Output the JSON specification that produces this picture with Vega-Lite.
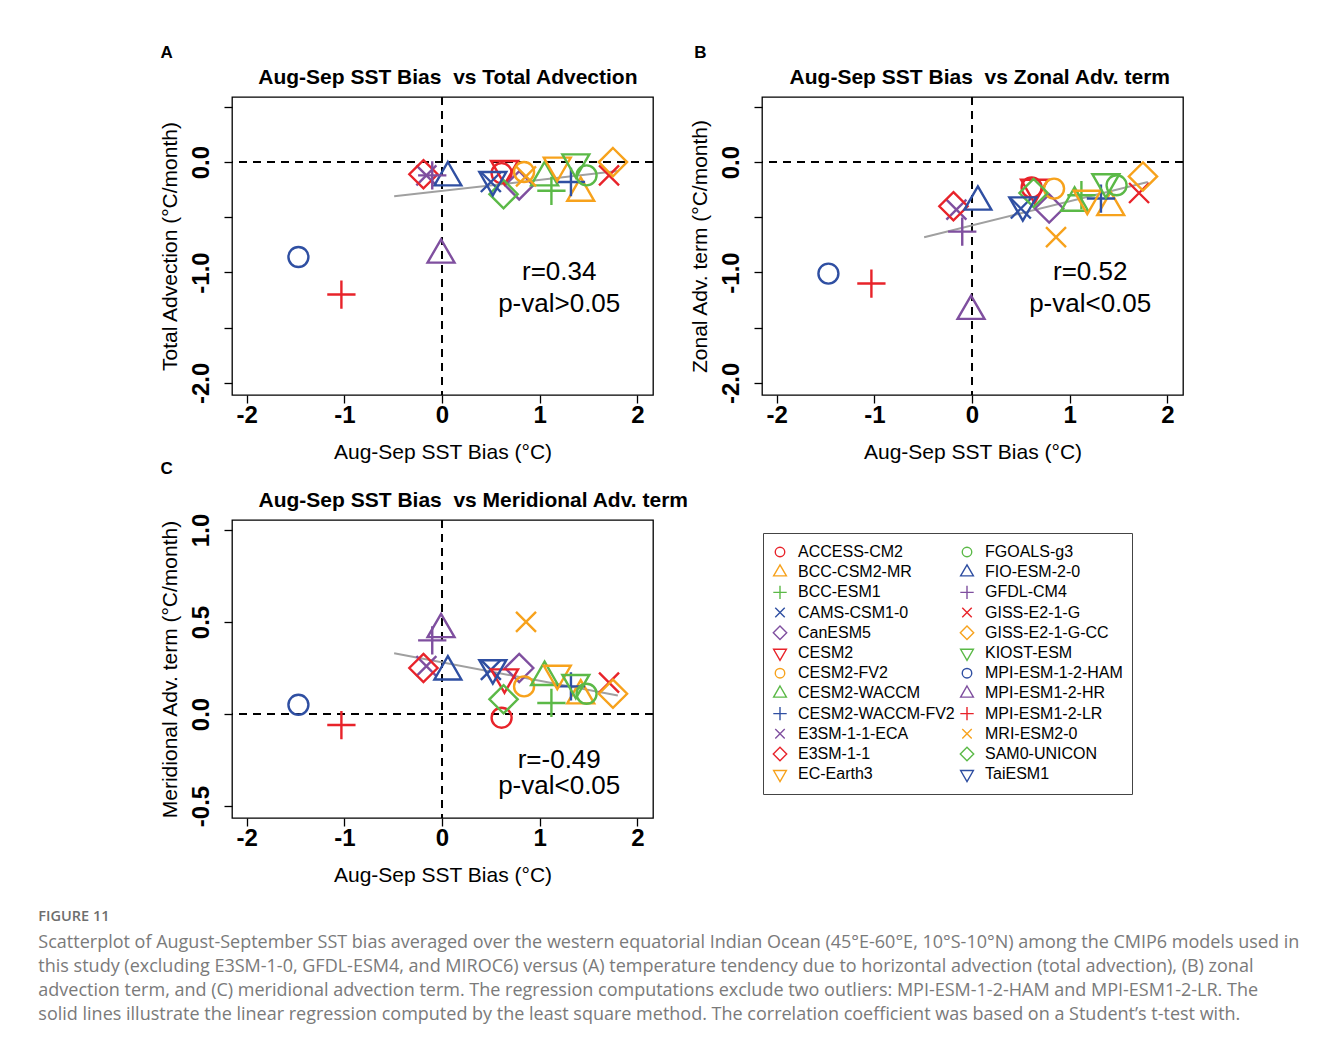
{
  "$schema": "https://vega.github.io/schema/vega-lite/v6.json",
  "background": "white",
  "padding": {"left": 38, "top": 43, "right": 5, "bottom": 5},
  "title": {
    "text": "FIGURE 11",
    "subtitle": [
      "Scatterplot of August-September SST bias averaged over the western equatorial Indian Ocean (45°E-60°E, 10°S-10°N) among the CMIP6 models used in",
      "this study (excluding E3SM-1-0, GFDL-ESM4, and MIROC6) versus (A) temperature tendency due to horizontal advection (total advection), (B) zonal",
      "advection term, and (C) meridional advection term. The regression computations exclude two outliers: MPI-ESM-1-2-HAM and MPI-ESM1-2-LR. The",
      "solid lines illustrate the linear regression computed by the least square method. The correlation coefficient was based on a Student’s t-test with."
    ],
    "orient": "bottom",
    "anchor": "start",
    "frame": "bounds",
    "dx": -120,
    "offset": 24,
    "font": "Open Sans",
    "fontSize": 14.5,
    "fontWeight": 600,
    "color": "#6e6e6e",
    "subtitleFont": "Open Sans",
    "subtitleFontSize": 18,
    "subtitleColor": "#7a7a7a",
    "subtitleLineHeight": 24,
    "subtitlePadding": 10
  },
  "datasets": {
    "models": [
      {"model": "ACCESS-CM2", "sst": 0.61, "ta": -0.10, "za": -0.23, "ma": -0.02},
      {"model": "BCC-CSM2-MR", "sst": 1.42, "ta": -0.28, "za": -0.41, "ma": 0.10},
      {"model": "BCC-ESM1", "sst": 1.12, "ta": -0.26, "za": -0.30, "ma": 0.06},
      {"model": "CAMS-CSM1-0", "sst": 0.50, "ta": -0.18, "za": -0.42, "ma": 0.24},
      {"model": "CanESM5", "sst": 0.79, "ta": -0.21, "za": -0.42, "ma": 0.25},
      {"model": "CESM2", "sst": 0.64, "ta": -0.06, "za": -0.23, "ma": 0.20},
      {"model": "CESM2-FV2", "sst": 0.84, "ta": -0.09, "za": -0.24, "ma": 0.15},
      {"model": "CESM2-WACCM", "sst": 1.05, "ta": -0.14, "za": -0.37, "ma": 0.20},
      {"model": "CESM2-WACCM-FV2", "sst": 1.32, "ta": -0.18, "za": -0.33, "ma": 0.15},
      {"model": "E3SM-1-1-ECA", "sst": -0.16, "ta": -0.12, "za": -0.43, "ma": 0.26},
      {"model": "E3SM-1-1", "sst": -0.19, "ta": -0.11, "za": -0.40, "ma": 0.25},
      {"model": "EC-Earth3", "sst": 1.18, "ta": -0.03, "za": -0.33, "ma": 0.22},
      {"model": "FGOALS-g3", "sst": 1.48, "ta": -0.12, "za": -0.21, "ma": 0.11},
      {"model": "FIO-ESM-2-0", "sst": 0.06, "ta": -0.14, "za": -0.36, "ma": 0.23},
      {"model": "GFDL-CM4", "sst": -0.10, "ta": -0.12, "za": -0.63, "ma": 0.40},
      {"model": "GISS-E2-1-G", "sst": 1.71, "ta": -0.12, "za": -0.28, "ma": 0.17},
      {"model": "GISS-E2-1-G-CC", "sst": 1.75, "ta": 0.00, "za": -0.13, "ma": 0.11},
      {"model": "KIOST-ESM", "sst": 1.37, "ta": 0.00, "za": -0.18, "ma": 0.17},
      {"model": "MPI-ESM-1-2-HAM", "sst": -1.47, "ta": -0.86, "za": -1.01, "ma": 0.05},
      {"model": "MPI-ESM1-2-HR", "sst": -0.01, "ta": -0.84, "za": -1.35, "ma": 0.46},
      {"model": "MPI-ESM1-2-LR", "sst": -1.03, "ta": -1.20, "za": -1.10, "ma": -0.06},
      {"model": "MRI-ESM2-0", "sst": 0.86, "ta": -0.13, "za": -0.68, "ma": 0.50},
      {"model": "SAM0-UNICON", "sst": 0.63, "ta": -0.29, "za": -0.28, "ma": 0.08},
      {"model": "TaiESM1", "sst": 0.52, "ta": -0.16, "za": -0.39, "ma": 0.25}
    ],
    "reg": [
      {"sst": -0.49, "ta": -0.31, "za": -0.68, "ma": 0.33},
      {"sst": 1.80, "ta": -0.08, "za": -0.18, "ma": 0.10}
    ]
  },
  "config": {
    "font": "Liberation Sans",
    "view": {"stroke": "black", "strokeWidth": 1.3},
    "axis": {
      "grid": false,
      "domain": false,
      "tickColor": "black",
      "tickSize": 8,
      "tickWidth": 1.3,
      "labelFont": "Liberation Sans",
      "labelFontSize": 24,
      "labelFontWeight": "bold",
      "labelColor": "black",
      "titleFont": "Liberation Sans",
      "titleFontSize": 21,
      "titleFontWeight": "normal",
      "titleColor": "black"
    },
    "axisX": {"labelPadding": 0, "titlePadding": 14, "labelFlush": false},
    "axisY": {"labelAngle": -90, "labelAlign": "center", "labelBaseline": "bottom", "labelPadding": 11, "titlePadding": 9, "labelFlush": false},
    "legend": {
      "orient": "none",
      "legendX": 531,
      "legendY": 436,
      "columns": 2,
      "gridAlign": "all",
      "strokeColor": "#444444",
      "padding": 9,
      "labelFont": "Liberation Sans",
      "labelFontSize": 16,
      "labelColor": "black",
      "labelOffset": 10,
      "symbolSize": 90,
      "symbolStrokeWidth": 1.4,
      "clipHeight": 20,
      "rowPadding": 0.2,
      "columnPadding": 4,
      "labelLimit": 300
    }
  },
  "spacing": -4,
  "vconcat": [
    {
      "spacing": 33,
      "hconcat": [
        {
          "width": 421,
          "height": 298,
          "layer": [
            {"data": {"values": [{}]}, "mark": {"type": "rule", "color": "black", "strokeWidth": 2, "strokeDash": [8, 6]}, "encoding": {"y": {"datum": 0}}},
            {"data": {"values": [{}]}, "mark": {"type": "rule", "color": "black", "strokeWidth": 2, "strokeDash": [8, 6]}, "encoding": {"x": {"datum": 0}}},
            {"data": {"name": "reg"}, "mark": {"type": "line", "color": "#a0a0a0", "strokeWidth": 2}, "encoding": {
              "x": {"field": "sst", "type": "quantitative"},
              "y": {"field": "ta", "type": "quantitative"}}},
            {"data": {"name": "models"}, "mark": {"type": "point", "filled": false, "size": 400, "strokeWidth": 2.4, "opacity": 1},
              "encoding": {
                "x": {"field": "sst", "type": "quantitative", "title": "Aug-Sep SST Bias (°C)",
                  "scale": {"domain": [-2.15, 2.16], "nice": false, "zero": false},
                  "axis": {"values": [-2, -1, 0, 1, 2], "labelExpr": "(datum.value < 0 ? '-' : '') + format(abs(datum.value), 'd')"}},
                "y": {"field": "ta", "type": "quantitative", "title": "Total Advection (°C/month)",
                  "scale": {"domain": [-2.11, 0.59], "nice": false, "zero": false},
                  "axis": {"values": [-2, -1.5, -1, -0.5, 0, 0.5], "labelExpr": "datum.value % 1 == 0 ? (datum.value < 0 ? '-' : '') + format(abs(datum.value), '.1f') : ''"}},
                "color": {"field": "model", "type": "nominal", "title": null,
                  "scale": {"domain": ["ACCESS-CM2", "BCC-CSM2-MR", "BCC-ESM1", "CAMS-CSM1-0", "CanESM5", "CESM2", "CESM2-FV2", "CESM2-WACCM", "CESM2-WACCM-FV2", "E3SM-1-1-ECA", "E3SM-1-1", "EC-Earth3", "FGOALS-g3", "FIO-ESM-2-0", "GFDL-CM4", "GISS-E2-1-G", "GISS-E2-1-G-CC", "KIOST-ESM", "MPI-ESM-1-2-HAM", "MPI-ESM1-2-HR", "MPI-ESM1-2-LR", "MRI-ESM2-0", "SAM0-UNICON", "TaiESM1"],
                    "range": ["#E8232A", "#F7A21C", "#5BB947", "#2F4FA2", "#7F4F9F", "#E8232A", "#F7A21C", "#5BB947", "#2F4FA2", "#7F4F9F", "#E8232A", "#F7A21C", "#5BB947", "#2F4FA2", "#7F4F9F", "#E8232A", "#F7A21C", "#5BB947", "#2F4FA2", "#7F4F9F", "#E8232A", "#F7A21C", "#5BB947", "#2F4FA2"]}},
                "shape": {"field": "model", "type": "nominal", "title": null,
                  "scale": {"domain": ["ACCESS-CM2", "BCC-CSM2-MR", "BCC-ESM1", "CAMS-CSM1-0", "CanESM5", "CESM2", "CESM2-FV2", "CESM2-WACCM", "CESM2-WACCM-FV2", "E3SM-1-1-ECA", "E3SM-1-1", "EC-Earth3", "FGOALS-g3", "FIO-ESM-2-0", "GFDL-CM4", "GISS-E2-1-G", "GISS-E2-1-G-CC", "KIOST-ESM", "MPI-ESM-1-2-HAM", "MPI-ESM1-2-HR", "MPI-ESM1-2-LR", "MRI-ESM2-0", "SAM0-UNICON", "TaiESM1"],
                    "range": ["circle", "M0,-1.555L1.347,0.778L-1.347,0.778Z", "M-1.414,0L1.414,0M0,-1.414L0,1.414", "M-1,-1L1,1M-1,1L1,-1", "M0,-1.414L1.414,0L0,1.414L-1.414,0Z", "M0,1.555L1.347,-0.778L-1.347,-0.778Z", "circle", "M0,-1.555L1.347,0.778L-1.347,0.778Z", "M-1.414,0L1.414,0M0,-1.414L0,1.414", "M-1,-1L1,1M-1,1L1,-1", "M0,-1.414L1.414,0L0,1.414L-1.414,0Z", "M0,1.555L1.347,-0.778L-1.347,-0.778Z", "circle", "M0,-1.555L1.347,0.778L-1.347,0.778Z", "M-1.414,0L1.414,0M0,-1.414L0,1.414", "M-1,-1L1,1M-1,1L1,-1", "M0,-1.414L1.414,0L0,1.414L-1.414,0Z", "M0,1.555L1.347,-0.778L-1.347,-0.778Z", "circle", "M0,-1.555L1.347,0.778L-1.347,0.778Z", "M-1.414,0L1.414,0M0,-1.414L0,1.414", "M-1,-1L1,1M-1,1L1,-1", "M0,-1.414L1.414,0L0,1.414L-1.414,0Z", "M0,1.555L1.347,-0.778L-1.347,-0.778Z"]}}
              }},
            {"data": {"values": [{}]}, "mark": {"type": "text", "fontSize": 17, "fontWeight": "bold", "align": "center", "baseline": "middle", "color": "black"},
              "encoding": {"x": {"datum": -2.82}, "y": {"datum": 0.99}, "text": {"value": "A"}}},
            {"data": {"values": [{}]}, "mark": {"type": "text", "fontSize": 21, "fontWeight": "bold", "align": "center", "baseline": "middle", "color": "black"},
              "encoding": {"x": {"datum": 0.06}, "y": {"datum": 0.76}, "text": {"value": "Aug-Sep SST Bias\u00a0 vs Total Advection"}}},
            {"data": {"values": [{}]}, "mark": {"type": "text", "fontSize": 26, "align": "center", "baseline": "middle", "color": "black"},
              "encoding": {"x": {"datum": 1.2}, "y": {"datum": -1.0}, "text": {"value": "r=0.34"}}},
            {"data": {"values": [{}]}, "mark": {"type": "text", "fontSize": 26, "align": "center", "baseline": "middle", "color": "black"},
              "encoding": {"x": {"datum": 1.2}, "y": {"datum": -1.285}, "text": {"value": "p-val>0.05"}}}
          ]
        },
        {
          "width": 421,
          "height": 298,
          "layer": [
            {"data": {"values": [{}]}, "mark": {"type": "rule", "color": "black", "strokeWidth": 2, "strokeDash": [8, 6]}, "encoding": {"y": {"datum": 0}}},
            {"data": {"values": [{}]}, "mark": {"type": "rule", "color": "black", "strokeWidth": 2, "strokeDash": [8, 6]}, "encoding": {"x": {"datum": 0}}},
            {"data": {"name": "reg"}, "mark": {"type": "line", "color": "#a0a0a0", "strokeWidth": 2}, "encoding": {
              "x": {"field": "sst", "type": "quantitative"},
              "y": {"field": "za", "type": "quantitative"}}},
            {"data": {"name": "models"}, "mark": {"type": "point", "filled": false, "size": 400, "strokeWidth": 2.4, "opacity": 1},
              "encoding": {
                "x": {"field": "sst", "type": "quantitative", "title": "Aug-Sep SST Bias (°C)",
                  "scale": {"domain": [-2.15, 2.16], "nice": false, "zero": false},
                  "axis": {"values": [-2, -1, 0, 1, 2], "labelExpr": "(datum.value < 0 ? '-' : '') + format(abs(datum.value), 'd')"}},
                "y": {"field": "za", "type": "quantitative", "title": "Zonal Adv. term (°C/month)",
                  "scale": {"domain": [-2.11, 0.59], "nice": false, "zero": false},
                  "axis": {"values": [-2, -1.5, -1, -0.5, 0, 0.5], "labelExpr": "datum.value % 1 == 0 ? (datum.value < 0 ? '-' : '') + format(abs(datum.value), '.1f') : ''"}},
                "color": {"field": "model", "type": "nominal", "title": null},
                "shape": {"field": "model", "type": "nominal", "title": null}
              }},
            {"data": {"values": [{}]}, "mark": {"type": "text", "fontSize": 17, "fontWeight": "bold", "align": "center", "baseline": "middle", "color": "black"},
              "encoding": {"x": {"datum": -2.78}, "y": {"datum": 0.99}, "text": {"value": "B"}}},
            {"data": {"values": [{}]}, "mark": {"type": "text", "fontSize": 21, "fontWeight": "bold", "align": "center", "baseline": "middle", "color": "black"},
              "encoding": {"x": {"datum": 0.08}, "y": {"datum": 0.76}, "text": {"value": "Aug-Sep SST Bias\u00a0 vs Zonal Adv. term"}}},
            {"data": {"values": [{}]}, "mark": {"type": "text", "fontSize": 26, "align": "center", "baseline": "middle", "color": "black"},
              "encoding": {"x": {"datum": 1.21}, "y": {"datum": -1.0}, "text": {"value": "r=0.52"}}},
            {"data": {"values": [{}]}, "mark": {"type": "text", "fontSize": 26, "align": "center", "baseline": "middle", "color": "black"},
              "encoding": {"x": {"datum": 1.21}, "y": {"datum": -1.285}, "text": {"value": "p-val<0.05"}}}
          ]
        }
      ]
    },
    {
      "width": 421,
      "height": 298,
      "layer": [
        {"data": {"values": [{}]}, "mark": {"type": "rule", "color": "black", "strokeWidth": 2, "strokeDash": [8, 6]}, "encoding": {"y": {"datum": 0}}},
        {"data": {"values": [{}]}, "mark": {"type": "rule", "color": "black", "strokeWidth": 2, "strokeDash": [8, 6]}, "encoding": {"x": {"datum": 0}}},
        {"data": {"name": "reg"}, "mark": {"type": "line", "color": "#a0a0a0", "strokeWidth": 2}, "encoding": {
          "x": {"field": "sst", "type": "quantitative"},
          "y": {"field": "ma", "type": "quantitative"}}},
        {"data": {"name": "models"}, "mark": {"type": "point", "filled": false, "size": 400, "strokeWidth": 2.4, "opacity": 1},
          "encoding": {
            "x": {"field": "sst", "type": "quantitative", "title": "Aug-Sep SST Bias (°C)",
              "scale": {"domain": [-2.15, 2.16], "nice": false, "zero": false},
              "axis": {"values": [-2, -1, 0, 1, 2], "labelExpr": "(datum.value < 0 ? '-' : '') + format(abs(datum.value), 'd')"}},
            "y": {"field": "ma", "type": "quantitative", "title": "Meridional Adv. term (°C/month)",
              "scale": {"domain": [-0.565, 1.054], "nice": false, "zero": false},
              "axis": {"values": [-0.5, 0, 0.5, 1], "labelExpr": "(datum.value < 0 ? '-' : '') + format(abs(datum.value), '.1f')"}},
            "color": {"field": "model", "type": "nominal", "title": null},
            "shape": {"field": "model", "type": "nominal", "title": null}
          }},
        {"data": {"values": [{}]}, "mark": {"type": "text", "fontSize": 17, "fontWeight": "bold", "align": "center", "baseline": "middle", "color": "black"},
          "encoding": {"x": {"datum": -2.82}, "y": {"datum": 1.33}, "text": {"value": "C"}}},
        {"data": {"values": [{}]}, "mark": {"type": "text", "fontSize": 21, "fontWeight": "bold", "align": "center", "baseline": "middle", "color": "black"},
          "encoding": {"x": {"datum": 0.32}, "y": {"datum": 1.158}, "text": {"value": "Aug-Sep SST Bias\u00a0 vs Meridional Adv. term"}}},
        {"data": {"values": [{}]}, "mark": {"type": "text", "fontSize": 26, "align": "center", "baseline": "middle", "color": "black"},
          "encoding": {"x": {"datum": 1.2}, "y": {"datum": -0.25}, "text": {"value": "r=-0.49"}}},
        {"data": {"values": [{}]}, "mark": {"type": "text", "fontSize": 26, "align": "center", "baseline": "middle", "color": "black"},
          "encoding": {"x": {"datum": 1.2}, "y": {"datum": -0.39}, "text": {"value": "p-val<0.05"}}}
      ]
    }
  ]
}
